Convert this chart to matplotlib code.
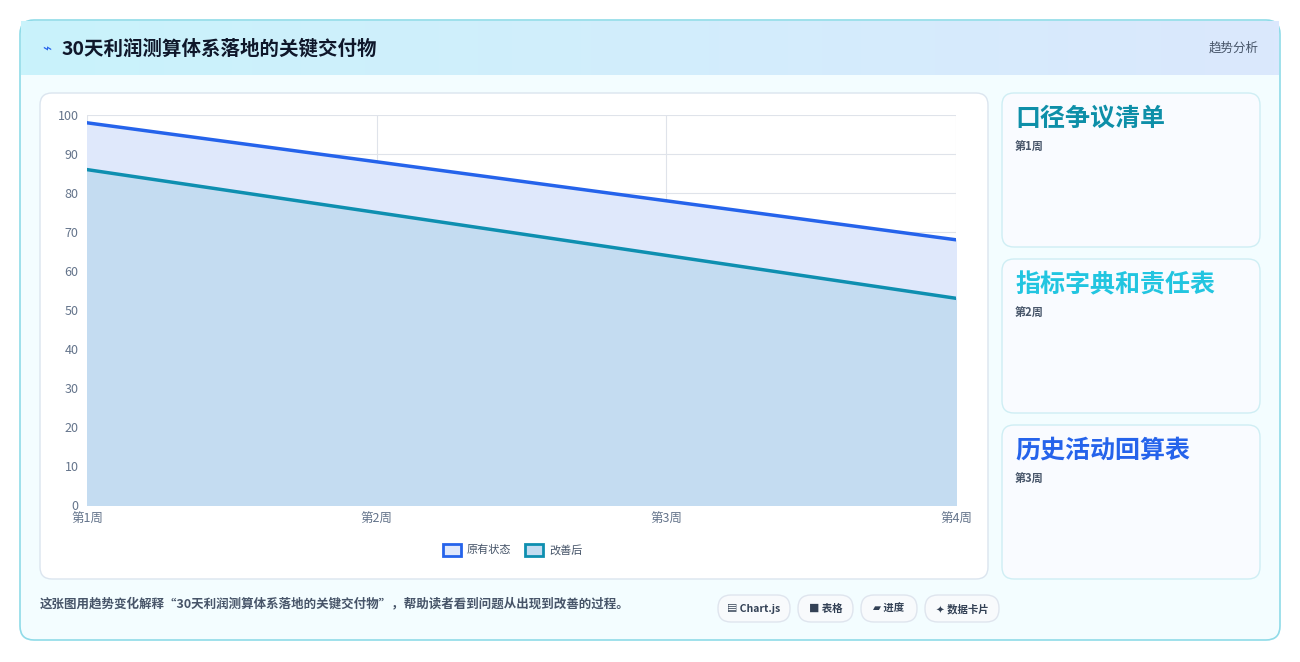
import matplotlib
matplotlib.use("Agg")
import matplotlib.pyplot as plt
from matplotlib.patches import FancyBboxPatch, Rectangle
import numpy as np

plt.rcParams['font.family'] = ['Noto Sans CJK SC', 'DejaVu Sans']

weeks = ["第1周", "第2周", "第3周", "第4周"]
original = [98, 88, 78, 68]
improved = [86, 75, 64, 53]
series_names = ["原有状态", "改善后"]
title = "30天利润测算体系落地的关键交付物"
cards = [("口径争议清单", "第1周", "#0e8fa8"), ("指标字典和责任表", "第2周", "#22c5e0"), ("历史活动回算表", "第3周", "#2563eb")]
chips = ["▤ Chart.js", "■ 表格", "▰ 进度", "✦ 数据卡片"]
caption = "这张图用趋势变化解释“30天利润测算体系落地的关键交付物”，帮助读者看到问题从出现到改善的过程。"

W, H = 1300, 662
fig = plt.figure(figsize=(13, 6.62), dpi=100)
fig.patch.set_facecolor("white")
bg = fig.add_axes([0, 0, 1, 1]); bg.set_xlim(0, W); bg.set_ylim(H, 0); bg.axis("off")

def rbox(x, y, w, h, r, fc, ec, lw=1, z=1):
    bg.add_patch(FancyBboxPatch((x + r, y + r), w - 2*r, h - 2*r, boxstyle=f"round,pad={r}",
                                fc=fc, ec=ec, lw=lw, zorder=z))

# outer card
rbox(20, 20, 1260, 620, 14, "#f3fdff", "#8fdbe8", 1.2)
# header gradient
grad = np.linspace(0, 1, 256).reshape(1, -1)
from matplotlib.colors import LinearSegmentedColormap
cm = LinearSegmentedColormap.from_list("h", ["#c9f3fb", "#dbe8fd"])
bg.imshow(grad, extent=(21, 1279, 75, 21), cmap=cm, aspect="auto", zorder=2)
bg.text(42, 49, "⌁", fontsize=11, color="#2563eb", va="center", zorder=3)
bg.text(62, 49, title, fontsize=14, fontweight="bold", color="#0f172a", va="center", zorder=3)
bg.text(1259, 48, "趋势分析", fontsize=9, color="#475569", va="center", ha="right", zorder=3)

# chart card
rbox(40, 93, 948, 486, 12, "white", "#dbe5ef", 1)
# side cards
for i, (t, s, c) in enumerate(cards):
    y0 = 93 + i*166
    rbox(1002, y0, 258, 154, 12, "#f9fbff", "#cfeef4", 1)
    bg.text(1015, y0 + 26, t, fontsize=18, fontweight="bold", color=c, va="center")
    bg.text(1015, y0 + 53, s, fontsize=8, fontweight="bold", color="#475569", va="center")

bg.text(40, 604, caption, fontsize=9, fontweight="bold", color="#475569", va="center")
cx = [718, 798, 861, 925]
cw = [72, 55, 56, 74]
for x, w, t in zip(cx, cw, chips):
    rbox(x, 595, w, 27, 13, "#f8fafc", "#dfe5ee", 1)
    bg.text(x + w/2, 609, t, fontsize=7.5, fontweight="bold", color="#334155", ha="center", va="center")

# main plot
ax = fig.add_axes([87/W, 1 - 505/H, (956-87)/W, (505-115)/H])
x = np.arange(len(weeks))
ax.fill_between(x, 0, original, color="#dfe8fb", zorder=1)
ax.fill_between(x, 0, improved, color="#c4dcf1", zorder=2)
ax.plot(x, original, color="#2563eb", lw=2.5, zorder=4)
ax.plot(x, improved, color="#0e8fb0", lw=2.5, zorder=4)
ax.set_xlim(0, 3); ax.set_ylim(0, 100)
ax.set_yticks(range(0, 101, 10)); ax.set_xticks(x)
ax.set_xticklabels(weeks)
ax.grid(True, color="#dfe3ea", lw=0.8, zorder=0)
ax.set_axisbelow(True)
for s in ax.spines.values(): s.set_visible(False)
ax.tick_params(colors="#64748b", labelsize=9, length=0, pad=6)
ax.set_facecolor("none")

# legend
lx = [443, 525]
for (x0, name, ec, fc) in zip(lx, series_names, ["#2563eb", "#0e8fb0"], ["#dfe8fb", "#c4dcf1"]):
    bg.add_patch(Rectangle((x0, 544), 18, 12, fc=fc, ec=ec, lw=2, zorder=3))
    bg.text(x0 + 24, 550, name, fontsize=8, color="#475569", va="center")

fig.savefig("out.png", dpi=100)
